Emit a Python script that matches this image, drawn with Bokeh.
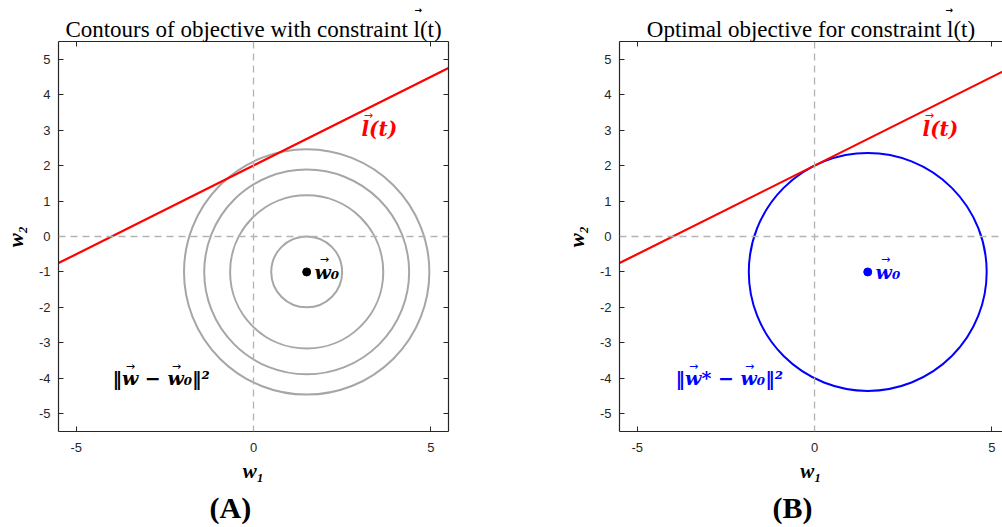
from bokeh.plotting import figure
from bokeh.models import Range1d, FixedTicker, LinearAxis, Span, Label, Title
from bokeh.layouts import row
from bokeh.embed import file_html
from bokeh.resources import INLINE

# ---- data ----
x_ticks = [-5, 0, 5]
y_ticks = [-5, -4, -3, -2, -1, 0, 1, 2, 3, 4, 5]
line_x = [-5.5, 5.5]
line_slope = 0.5
line_intercept = 2.0
w0 = (1.5, -1.0)
contour_radii = [1.0, 2.16, 2.89, 3.46]
optimal_radius = 3.354
titles = ["Contours of objective with constraint l(t)",
          "Optimal objective for constraint l(t)"]
panel_tags = ["(A)", "(B)"]
norm_texts = ["\u2016w \u2212 w\u2080\u2016\u00b2",
              "\u2016w* \u2212 w\u2080\u2016\u00b2"]
ARROW = "\u2192"

AX = "#262626"
SERIF = "Liberation Serif"
MATH = "DejaVu Serif"
SANS = "Liberation Sans"


def base_axis_style(ax):
    ax.axis_line_color = AX
    ax.axis_line_width = 1.2
    ax.major_tick_line_color = AX
    ax.major_tick_in = 5
    ax.major_tick_out = 0
    ax.minor_tick_line_color = None


def add_arrow(p, x, y, dx, dy, color, size="11px"):
    p.add_layout(Label(x=x, y=y, x_offset=dx, y_offset=dy,
                       text=ARROW, text_font="DejaVu Sans", text_font_size=size,
                       text_color=color, text_align="center", text_baseline="middle"))


def make_panel(idx, width, x_end, mb_left, mb_right, circle_color, radii, norm_x,
               tag_offset, title_arrow_offset):
    p = figure(width=width, height=526, output_backend="svg", toolbar_location=None,
               x_range=Range1d(-5.5, x_end), y_range=Range1d(-5.5, 5.5),
               min_border_left=mb_left, min_border_right=mb_right,
               min_border_top=41, min_border_bottom=95)
    p.xgrid.visible = False
    p.ygrid.visible = False
    p.outline_line_color = None
    p.background_fill_color = "white"
    p.border_fill_color = "white"

    xa = p.xaxis[0]
    ya = p.yaxis[0]
    xa.ticker = FixedTicker(ticks=x_ticks)
    ya.ticker = FixedTicker(ticks=y_ticks)
    xa.major_label_overrides = {t: str(t) for t in x_ticks}
    ya.major_label_overrides = {t: str(t) for t in y_ticks}
    for ax in (xa, ya):
        base_axis_style(ax)
        ax.major_label_text_font = SANS
        ax.major_label_text_font_size = "13px"
        ax.major_label_text_color = AX
        ax.axis_label_text_font = SERIF
        ax.axis_label_text_font_style = "bold italic"
        ax.axis_label_text_font_size = "21px"
        ax.axis_label_text_color = "black"
    xa.major_label_standoff = 11
    ya.major_label_standoff = 8
    xa.axis_label = "w\u2081"
    ya.axis_label = "w\u2082"
    xa.axis_label_standoff = 4
    ya.axis_label_standoff = 8

    extra = [("above", x_ticks)]
    if idx == 0:
        extra.append(("right", y_ticks))
    for loc, ticks in extra:
        ax = LinearAxis(ticker=FixedTicker(ticks=ticks))
        base_axis_style(ax)
        ax.major_label_text_color = None
        ax.major_label_text_font_size = "1px"
        ax.major_label_standoff = 0
        p.add_layout(ax, loc)

    # zero lines
    for dim in ("width", "height"):
        p.add_layout(Span(location=0, dimension=dim, line_color="#b3b3b3",
                          line_width=1.3, line_dash="7 5"))

    # circles
    p.circle(x=[w0[0]] * len(radii), y=[w0[1]] * len(radii), radius=radii,
             fill_color=None, line_color=circle_color, line_width=2)

    # constraint line
    ly = [line_slope * v + line_intercept for v in line_x]
    p.line(line_x, ly, line_color="#ff0000", line_width=2.2)

    # w0 marker
    marker_color = "black" if idx == 0 else "#0000ff"
    p.scatter([w0[0]], [w0[1]], marker="circle", size=8, fill_color=marker_color,
              line_color=marker_color)

    wx = w0[0] + 0.22
    p.add_layout(Label(x=wx, y=w0[1], text="w\u2080", text_font=MATH,
                       text_font_style="bold italic", text_font_size="19px",
                       text_color=marker_color, text_baseline="middle", text_align="left"))
    add_arrow(p, wx, w0[1], 10, 12, marker_color)

    lx, ly_ = 3.55, 3.03
    p.add_layout(Label(x=lx, y=ly_, text="l(t)", text_font=MATH,
                       text_font_style="bold italic", text_font_size="20px",
                       text_color="#ff0000", text_baseline="middle", text_align="center"))
    add_arrow(p, lx, ly_, -11, 14, "#ff0000")

    p.add_layout(Label(x=norm_x, y=-4.0, text=norm_texts[idx], text_font=MATH,
                       text_font_style="bold italic", text_font_size="19px",
                       text_color=marker_color, text_baseline="middle", text_align="left"))
    add_arrow(p, norm_x, -4.0, 18, 12, marker_color)
    add_arrow(p, norm_x, -4.0, 64 if idx == 0 else 74, 12, marker_color)

    # title & panel tag
    t = Title(text=titles[idx], align="center", text_font=SERIF,
              text_font_size="23px", text_font_style="normal", text_color="black",
              standoff=0)
    p.add_layout(t, "above")
    ta = Title(text=ARROW, align="left", offset=title_arrow_offset, text_font="DejaVu Sans",
               text_font_size="9px", text_color="black", standoff=0)
    p.add_layout(ta, "above")
    tag = Title(text=panel_tags[idx], align="left", offset=tag_offset, text_font=SERIF,
                text_font_size="30px", text_font_style="bold", text_color="black",
                standoff=6)
    p.add_layout(tag, "below")
    return p


p1 = make_panel(0, 510, 5.5, 58, 62, "#a6a6a6", contour_radii, -3.98, 151, 356)
p2 = make_panel(1, 492, 5.3, 109, 0, "#0000ff", [optimal_radius], -3.92, 153, 326)

layout = row(p1, p2)
open("out.html", "w").write(file_html(layout, INLINE))
